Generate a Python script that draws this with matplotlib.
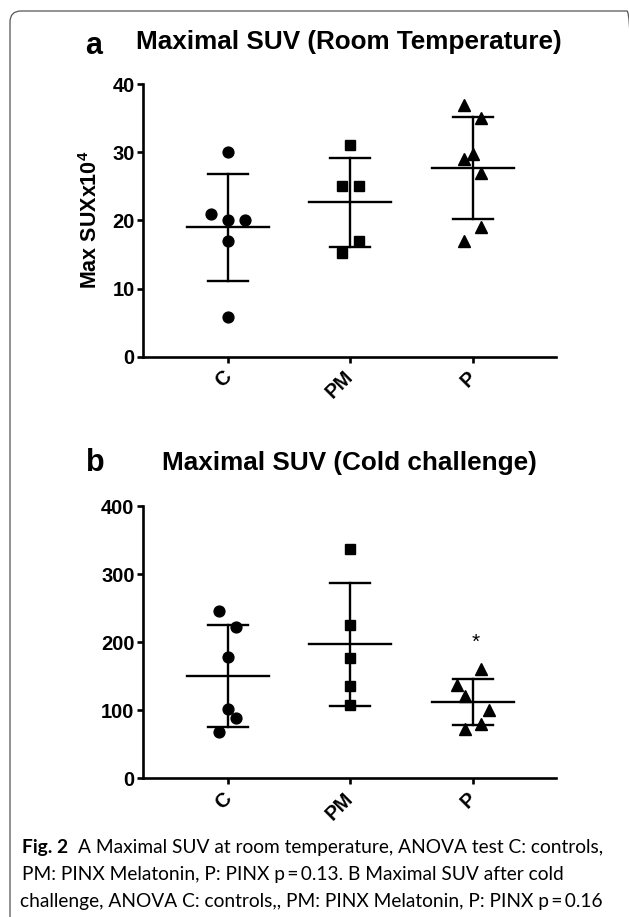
import matplotlib
matplotlib.use('Agg')
import matplotlib.pyplot as plt
import numpy as np
from matplotlib.patches import FancyBboxPatch
from matplotlib.transforms import IdentityTransform

# ---------------- data ----------------
groups = ['C', 'PM', 'P']
room_C = [30.0, 21.0, 20.0, 20.0, 17.0, 5.8]
room_PM = [31.0, 25.0, 25.0, 17.0, 15.2]
room_P = [36.9, 35.0, 29.8, 29.0, 26.9, 19.0, 16.9]
cold_C = [246, 222, 178, 101, 88, 67]
cold_PM = [337, 225, 177, 135, 108]
cold_P = [161, 137, 120, 100, 80, 72]
yticks_a = [0, 10, 20, 30, 40]
yticks_b = [0, 100, 200, 300, 400]
star_value = 200

title_a = 'Maximal SUV (Room Temperature)'
title_b = 'Maximal SUV (Cold challenge)'
ylabel_a = r'Max SUXx10$^{4}$'
caption = ['A Maximal SUV at room temperature, ANOVA test C: controls,',
           'PM: PINX Melatonin, P: PINX p\u2009=\u20090.13. B Maximal SUV after cold',
           'challenge, ANOVA C: controls,, PM: PINX Melatonin, P: PINX p\u2009=\u20090.16']

# ---------------- layout (jitter of overlapping dots, in category units) ----------------
jit_room = [[0, -0.136, 0, 0.136, 0, 0],
            [0, -0.068, 0.068, 0.068, -0.068],
            [-0.068, 0.068, 0, -0.068, 0.068, 0.068, -0.068]]
jit_cold = [[-0.072, 0.066, 0, 0, 0.066, -0.072],
            [0, 0, 0, 0, 0],
            [0.066, -0.13, -0.066, 0.13, 0.066, -0.066]]
markers = ['o', 's', '^']
msizes = [7.8, 7.8, 8.6]

plt.rcParams['font.family'] = ['Liberation Sans', 'DejaVu Sans']
plt.rcParams['mathtext.fontset'] = 'custom'
plt.rcParams['mathtext.rm'] = 'Liberation Sans:bold'
plt.rcParams['mathtext.bf'] = 'Liberation Sans:bold'

W, H = 629, 917
fig = plt.figure(figsize=(W / 100, H / 100), dpi=100)
fig.patch.set_facecolor('white')

def fx(px):
    return px / W

def fy(py):
    return 1 - py / H

LW = 1.9
TICK_FS = 14.5

def style(ax, ylim, yticks):
    ax.set_xlim(-0.695, 2.68)
    ax.set_ylim(*ylim)
    for s in ['top', 'right']:
        ax.spines[s].set_visible(False)
    for s in ['left', 'bottom']:
        ax.spines[s].set_linewidth(LW)
    ax.set_yticks(yticks)
    ax.set_xticks(range(len(groups)))
    ax.tick_params(axis='both', direction='out', length=4.6, width=LW, labelsize=TICK_FS, pad=1.5)
    for t in ax.get_yticklabels():
        t.set_fontweight('bold')
    ax.set_xticklabels(groups, rotation=45, ha='right', va='center',
                       rotation_mode='anchor', fontweight='bold', fontsize=TICK_FS)
    ax.tick_params(axis='x', pad=8)

def draw(ax, data, jits):
    for i, (vals, jit) in enumerate(zip(data, jits)):
        vals = np.asarray(vals, dtype=float)
        m = vals.mean()
        sd = vals.std(ddof=1)
        ax.plot(i + np.asarray(jit), vals, linestyle='none', marker=markers[i],
                ms=msizes[i], color='black', clip_on=False, zorder=3)
        ax.plot([i - 0.335, i + 0.335], [m, m], color='black', lw=1.7, zorder=2)
        ax.plot([i, i], [m - sd, m + sd], color='black', lw=1.7, zorder=2)
        for v in (m - sd, m + sd):
            ax.plot([i - 0.163, i + 0.163], [v, v], color='black', lw=1.7, zorder=2)

ax_a = fig.add_axes([fx(143), fy(356.7), fx(556) - fx(143), fy(84) - fy(356.7)])
style(ax_a, (0, 40), yticks_a)
draw(ax_a, [room_C, room_PM, room_P], jit_room)

ax_b = fig.add_axes([fx(143), fy(778), fx(556) - fx(143), fy(506) - fy(778)])
style(ax_b, (0, 400), yticks_b)
draw(ax_b, [cold_C, cold_PM, cold_P], jit_cold)
ax_b.text(2.02, star_value, '*', ha='center', va='center', fontsize=15)

# titles
fig.text(fx(94), fy(54), 'a', fontsize=22, fontweight='bold', ha='center', va='baseline')
fig.text(fx(136), fy(49), title_a, fontsize=18.8, fontweight='bold', ha='left', va='baseline')
fig.text(fx(95), fy(471), 'b', fontsize=22, fontweight='bold', ha='center', va='baseline')
fig.text(fx(162), fy(470), title_b, fontsize=18.8, fontweight='bold', ha='left', va='baseline')
fig.text(fx(91), fy(220), ylabel_a, fontsize=15.5, fontweight='bold', rotation=90,
         ha='center', va='center')

# caption
cap_font = ['Lato', 'DejaVu Sans']
CAP_FS = 13.8
renderer = fig.canvas.get_renderer()
fig_t = fig.text(fx(22), fy(853), 'Fig. 2', fontsize=CAP_FS, fontweight='bold',
                 family=cap_font, ha='left', va='baseline')
bb = fig_t.get_window_extent(renderer)
x0 = bb.x1 + 10
fig.text(x0 / W, fy(853), caption[0], fontsize=CAP_FS, family=cap_font, ha='left', va='baseline')
fig.text(fx(22), fy(880), caption[1], fontsize=CAP_FS, family=cap_font, ha='left', va='baseline')
fig.text(fx(20), fy(907), caption[2], fontsize=CAP_FS, family=cap_font, ha='left', va='baseline')

# frame
frame = FancyBboxPatch((10, -30), 628, (H - 11) + 30, boxstyle='round,pad=0,rounding_size=11',
                       transform=IdentityTransform(), facecolor='none', edgecolor='#555555',
                       lw=0.9)
fig.patches.append(frame)

fig.savefig('out.png', dpi=100)
